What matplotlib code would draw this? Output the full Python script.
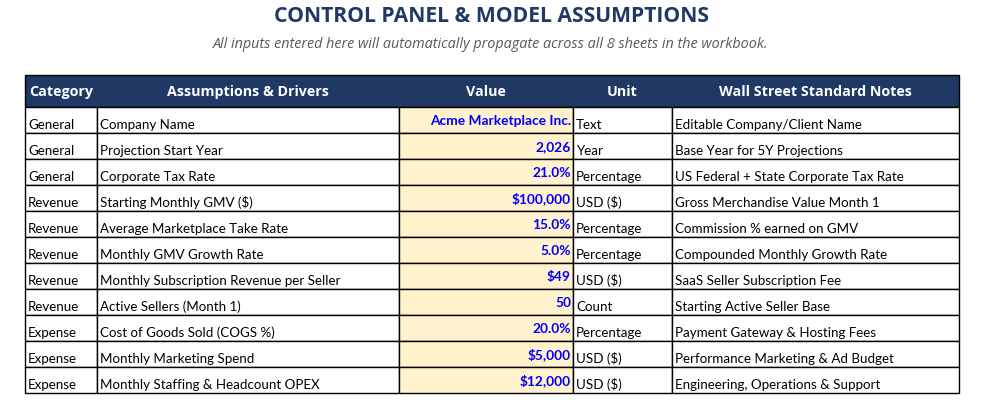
import matplotlib
matplotlib.use("Agg")
import matplotlib.pyplot as plt
from matplotlib.patches import Rectangle

# Table content
title = "CONTROL PANEL & MODEL ASSUMPTIONS"
subtitle = "All inputs entered here will automatically propagate across all 8 sheets in the workbook."
headers = ["Category", "Assumptions & Drivers", "Value", "Unit", "Wall Street Standard Notes"]

categories = ["General", "General", "General", "Revenue", "Revenue", "Revenue",
              "Revenue", "Revenue", "Expense", "Expense", "Expense"]
drivers = ["Company Name", "Projection Start Year", "Corporate Tax Rate",
           "Starting Monthly GMV ($)", "Average Marketplace Take Rate",
           "Monthly GMV Growth Rate", "Monthly Subscription Revenue per Seller",
           "Active Sellers (Month 1)", "Cost of Goods Sold (COGS %)",
           "Monthly Marketing Spend", "Monthly Staffing & Headcount OPEX"]
values = ["Acme Marketplace Inc.", "2,026", "21.0%", "$100,000", "15.0%", "5.0%",
          "$49", "50", "20.0%", "$5,000", "$12,000"]
units = ["Text", "Year", "Percentage", "USD ($)", "Percentage", "Percentage",
         "USD ($)", "Count", "Percentage", "USD ($)", "USD ($)"]
notes = ["Editable Company/Client Name", "Base Year for 5Y Projections",
         "US Federal + State Corporate Tax Rate", "Gross Merchandise Value Month 1",
         "Commission % earned on GMV", "Compounded Monthly Growth Rate",
         "SaaS Seller Subscription Fee", "Starting Active Seller Base",
         "Payment Gateway & Hosting Fees", "Performance Marketing & Ad Budget",
         "Engineering, Operations & Support"]

# Layout (pixel coordinates on a 989x420 canvas)
col_edges = [25, 97, 399, 573, 672, 959]
header_top, header_bottom = 75, 107
row_h = 26

navy = "#1F3864"
value_fill = "#FFF2CC"
body_font = "Lato"

fig = plt.figure(figsize=(9.89, 4.2), dpi=100)
ax = fig.add_axes([0, 0, 1, 1])
ax.set_xlim(0, 989)
ax.set_ylim(420, 0)
ax.axis("off")

ax.text(492, 17, title, ha="center", va="center", fontsize=15.2,
        fontweight="bold", color=navy, family="Open Sans")
ax.text(491, 45, subtitle, ha="center", va="center", fontsize=10.4,
        style="italic", color="#595959", family="Open Sans")

# header row
ax.add_patch(Rectangle((col_edges[0], header_top), col_edges[-1] - col_edges[0],
                       header_bottom - header_top, facecolor=navy,
                       edgecolor="black", lw=1))
for i, h in enumerate(headers):
    cx = (col_edges[i] + col_edges[i + 1]) / 2
    ax.text(cx, (header_top + header_bottom) / 2 + 1, h, ha="center", va="center",
            fontsize=10.3, fontweight="bold", color="white", family="Open Sans")

columns = [categories, drivers, values, units, notes]
n_rows = len(categories)
for r in range(n_rows):
    top = header_bottom + r * row_h
    bottom = top + row_h
    for c in range(len(columns)):
        x0, x1 = col_edges[c], col_edges[c + 1]
        fc = value_fill if c == 2 else "white"
        ax.add_patch(Rectangle((x0, top), x1 - x0, row_h, facecolor=fc,
                               edgecolor="black", lw=1))
        txt = columns[c][r]
        if c == 2:
            ax.text(x1 - 2, bottom - 8, txt, ha="right", va="baseline",
                    fontsize=9.9, fontweight="bold", color="#0000FF",
                    family=body_font)
        else:
            ax.text(x0 + 3, bottom - 4, txt, ha="left", va="baseline",
                    fontsize=9.6, color="black", family=body_font)

fig.savefig("out.png", dpi=100)
